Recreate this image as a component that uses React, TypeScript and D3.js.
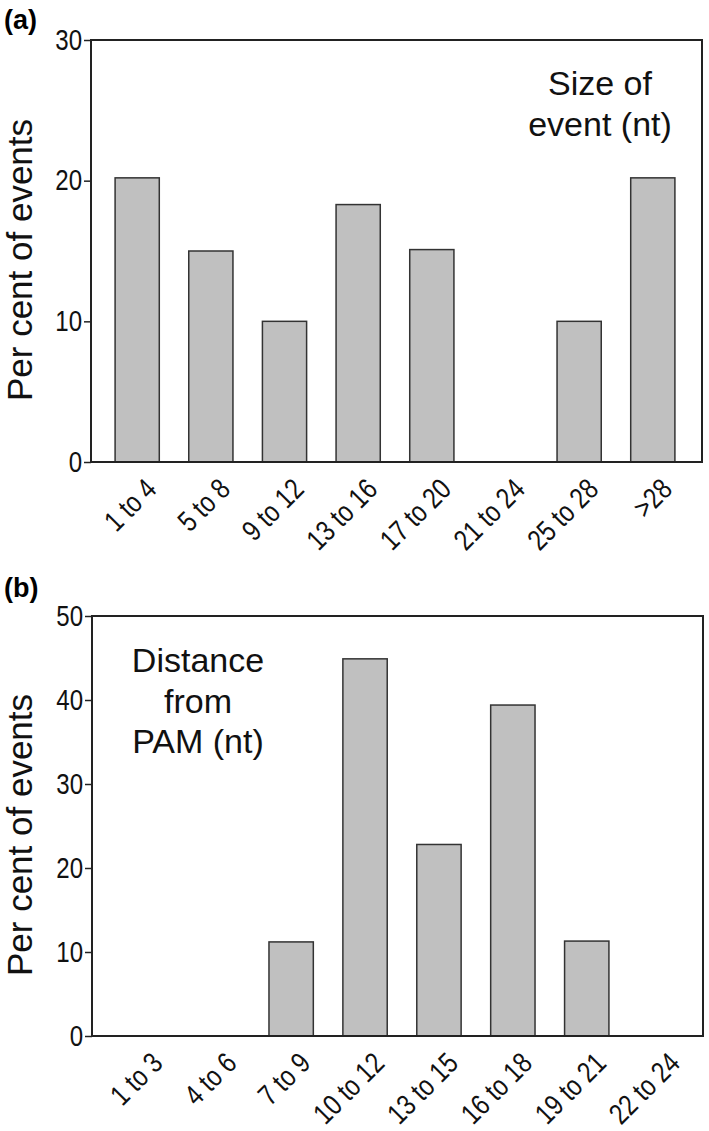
import React, { useEffect, useRef } from "react";
import * as d3 from "d3";

// Panel (a): size of event
const sizeCategories = ["1 to 4", "5 to 8", "9 to 12", "13 to 16", "17 to 20", "21 to 24", "25 to 28", ">28"];
const sizeValues = [20.2, 15.0, 10.0, 18.3, 15.1, 0, 10.0, 20.2];
const sizeTicks = [0, 10, 20, 30];

// Panel (b): distance from PAM
const distCategories = ["1 to 3", "4 to 6", "7 to 9", "10 to 12", "13 to 15", "16 to 18", "19 to 21", "22 to 24"];
const distValues = [0, 0, 11.2, 44.9, 22.8, 39.4, 11.3, 0];
const distTicks = [0, 10, 20, 30, 40, 50];

const FONT = "'Liberation Sans', Arial, Helvetica, sans-serif";

export default function App() {
	const svgRef = useRef(null);

	useEffect(() => {
		const svg = d3.select(svgRef.current);

		function drawPanel(opts) {
			const { letter, letterY, cats, vals, ticks, yMax, top, bottom, left, right, bandRange, note, noteX, noteY } = opts;

			const g = svg.append("g");

			const x = d3.scaleBand().domain(cats).range(bandRange).paddingInner(0.4).paddingOuter(0.3);
			const y = d3.scaleLinear().domain([0, yMax]).range([bottom, top]);

			// panel letter
			g.append("text")
				.attr("x", 4)
				.attr("y", letterY)
				.style("font-family", FONT)
				.style("font-weight", "bold")
				.style("font-size", "27px")
				.text(letter);

			// bars
			g.selectAll("rect.bar")
				.data(cats.map((c, i) => ({ c, v: vals[i] })).filter((d) => d.v > 0))
				.enter()
				.append("rect")
				.attr("class", "bar")
				.attr("x", (d) => x(d.c))
				.attr("y", (d) => y(d.v))
				.attr("width", x.bandwidth())
				.attr("height", (d) => y(0) - y(d.v))
				.attr("fill", "#c0c0c0")
				.attr("stroke", "#333")
				.attr("stroke-width", 1.5);

			// frame
			g.append("rect")
				.attr("x", left)
				.attr("y", top)
				.attr("width", right - left)
				.attr("height", bottom - top)
				.attr("fill", "none")
				.attr("stroke", "#222")
				.attr("stroke-width", 2);

			// left axis (condensed digits like the original)
			const sx = 0.83;
			const yAxis = g.append("g")
				.attr("transform", `translate(${left},0)`)
				.call(d3.axisLeft(y).tickValues(ticks).tickSize(7).tickPadding(2));
			yAxis.select(".domain").remove();
			yAxis.selectAll("line").attr("stroke", "#222").attr("stroke-width", 1.5);
			yAxis.selectAll("text")
				.attr("x", -9 / sx)
				.attr("transform", `scale(${sx},1)`)
				.style("font-family", FONT)
				.style("font-size", "29px")
				.attr("fill", "#111");

			// x category labels
			g.selectAll("text.xlab")
				.data(cats)
				.enter()
				.append("text")
				.attr("class", "xlab")
				.attr("text-anchor", "end")
				.attr("transform", (d) => `translate(${x(d) + x.bandwidth() / 2 + 21},${bottom + 29}) rotate(-45) scale(0.82,1)`)
				.style("font-family", FONT)
				.style("font-size", "29px")
				.attr("fill", "#111")
				.text((d) => d);

			// y label
			g.append("text")
				.attr("transform", `translate(32,${(top + bottom) / 2 + 9}) rotate(-90)`)
				.attr("text-anchor", "middle")
				.style("font-family", FONT)
				.style("font-size", "35px")
				.attr("fill", "#111")
				.text("Per cent of events");

			// in-plot annotation
			g.append("text")
				.attr("text-anchor", "middle")
				.style("font-family", FONT)
				.style("font-size", "34px")
				.attr("fill", "#111")
				.selectAll("tspan")
				.data(note)
				.enter()
				.append("tspan")
				.attr("x", noteX)
				.attr("y", (d, i) => noteY + i * 40.5)
				.text((d) => d);
		}

		drawPanel({
			letter: "(a)",
			letterY: 29,
			cats: sizeCategories,
			vals: sizeValues,
			ticks: sizeTicks,
			yMax: 30,
			top: 40,
			bottom: 462,
			left: 91,
			right: 702,
			bandRange: [93, 697],
			note: ["Size of", "event (nt)"],
			noteX: 600,
			noteY: 95,
		});

		drawPanel({
			letter: "(b)",
			letterY: 597,
			cats: distCategories,
			vals: distValues,
			ticks: distTicks,
			yMax: 50,
			top: 616,
			bottom: 1036,
			left: 92,
			right: 703,
			bandRange: [99, 705],
			note: ["Distance", "from", "PAM (nt)"],
			noteX: 198,
			noteY: 672,
		});

		return () => {
			d3.select(svgRef.current).selectAll("*").remove();
		};
	}, []);

	return (
		<svg
			ref={svgRef}
			width={709}
			height={1131}
			style={{ position: "absolute", left: 0, top: 0, background: "#fff" }}
		></svg>
	);
}
